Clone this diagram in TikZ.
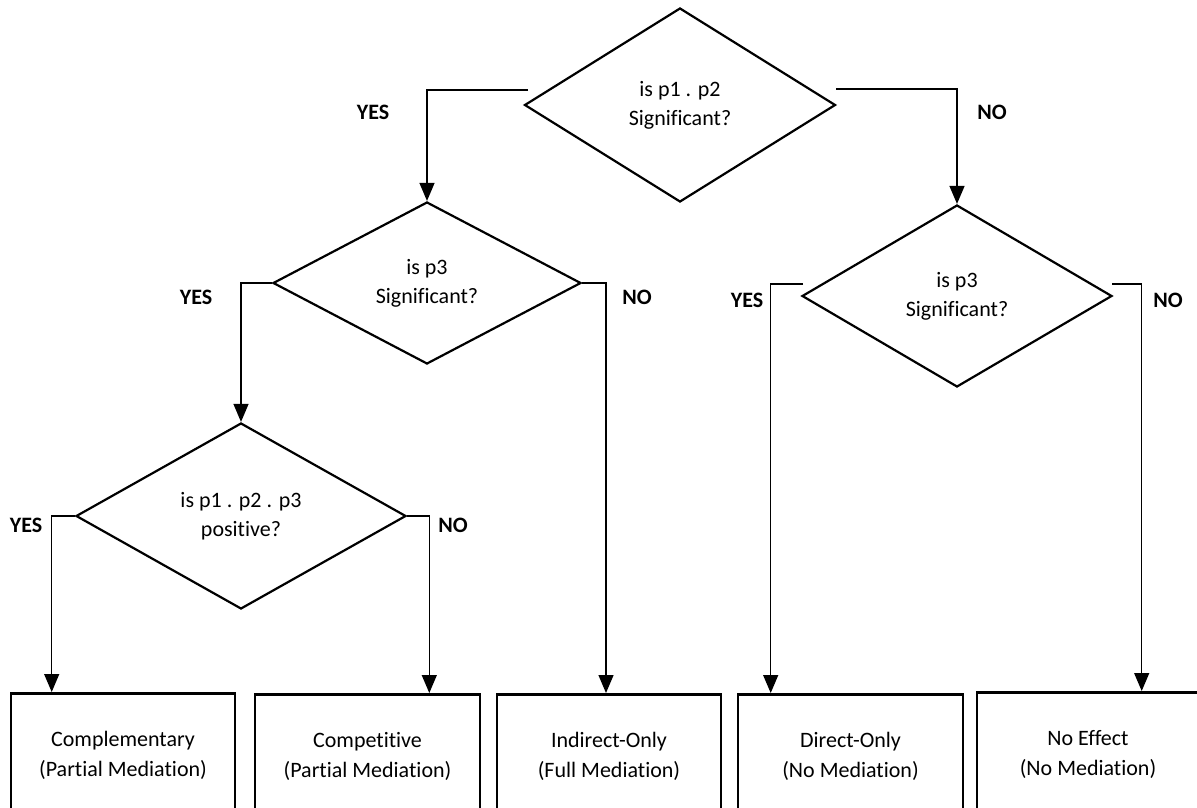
\documentclass[tikz,border=0pt]{standalone}
\usepackage{fontspec}
\setmainfont{Carlito}[Ligatures=NoCommon]
\usetikzlibrary{shapes.geometric,arrows.meta}
\begin{document}
\begin{tikzpicture}[x=1pt,y=-1pt,
  dec/.style={diamond, draw, line width=2.2pt, inner sep=0pt, align=center,
    font=\fontsize{22}{29}\selectfont},
  res/.style={rectangle, draw, line width=2.6pt, inner sep=0pt, align=center,
    anchor=north, minimum height=125pt, font=\fontsize{22}{30}\selectfont},
  lbl/.style={font=\fontsize{22}{26}\selectfont\bfseries},
  conn/.style={line width=1.3pt, -{Triangle[width=15pt,length=18pt]}},
]
\clip (0,0) rectangle (1197,808);
\fill[white] (0,0) rectangle (1197,808);

% decisions
\node[dec, minimum width=311pt, minimum height=194pt] (d1) at (680,105) {is p1 . p2\\Significant?};
\node[dec, minimum width=308pt, minimum height=162pt] (d2) at (427,283) {is p3\\Significant?};
\node[dec, minimum width=330pt, minimum height=186pt] (d3) at (241,516) {is p1 . p2 . p3\\positive?};
\node[dec, minimum width=310pt, minimum height=182pt] (d4) at (957,296) {is p3\\Significant?};

% results
\node[res, minimum width=224pt] (b1) at (123,692) {Complementary\\(Partial Mediation)};
\node[res, minimum width=225pt] (b2) at (367.5,693) {Competitive\\(Partial Mediation)};
\node[res, minimum width=224pt] (b3) at (609,693) {Indirect-Only\\(Full Mediation)};
\node[res, minimum width=225pt] (b4) at (850.5,693) {Direct-Only\\(No Mediation)};
\node[res, minimum width=222pt] (b5) at (1088,691) {No Effect\\(No Mediation)};

% connector start points
\coordinate (y1s) at (528,90);
\coordinate (n1s) at (836,89);
\coordinate (y4s) at (803,284);
\coordinate (n4s) at (1112,284);

% connectors
\draw[conn] (y1s) -| (d2.north);
\draw[conn] (n1s) -| (d4.north);
\draw[conn] (d2.west) -| (d3.north);
\draw[conn] (d2.east) -| ([xshift=-3pt]b3.north);
\draw[conn] (d3.west) -| ([xshift=42pt]b1.north west);
\draw[conn] (d3.east) -| ([xshift=-52pt]b2.north east);
\draw[conn] (y4s) -| ([xshift=34pt]b4.north west);
\draw[conn] (n4s) -| ([xshift=166pt]b5.north west);

% labels
\node[lbl] (ly1) at (373,112) {YES};
\node[lbl] (ln1) at (992,112) {NO};
\node[lbl] (ly2) at (196,297) {YES};
\node[lbl] (ln2) at (637,297) {NO};
\node[lbl] (ly3) at (26,525) {YES};
\node[lbl] (ln3) at (453,525) {NO};
\node[lbl] (ly4) at (747,300) {YES};
\node[lbl] (ln4) at (1168,300) {NO};
\end{tikzpicture}
\end{document}
